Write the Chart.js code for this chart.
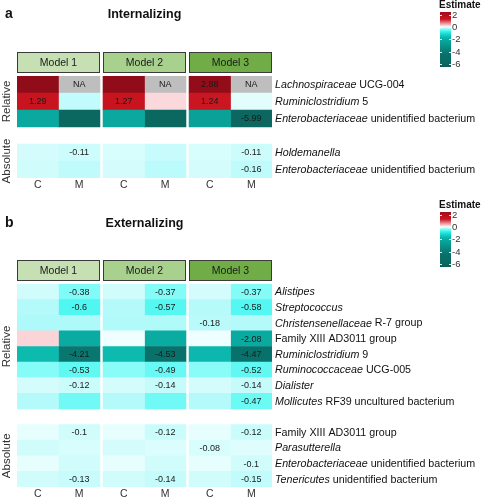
<!DOCTYPE html>
<html>
<head>
<meta charset="utf-8">
<script src="https://cdn.jsdelivr.net/npm/chart.js@4"></script>
<style>
  body { margin: 0; background: #fff; }
  canvas { position: absolute; left: 0; }
  #panelA { top: 0; }
  #panelB { top: 200px; }
</style>
</head>
<body>
<canvas id="panelA" width="482" height="200"></canvas>
<canvas id="panelB" width="482" height="300"></canvas>
<script>
var models = ["Model 1", "Model 2", "Model 3"];
var columns = ["C", "M", "C", "M", "C", "M"];
var legendTicks = [2, 0, -2, -4, -6];

// panel a - Internalizing
var intRows = [
    ["Lachnospiraceae", " UCG-004"],
    ["Ruminiclostridium", " 5"],
    ["Enterobacteriaceae", " unidentified bacterium"],
    ["Holdemanella", ""],
    ["Enterobacteriaceae", " unidentified bacterium"]
];
var intGroups = ["Relative", "Relative", "Relative", "Absolute", "Absolute"];
var intValues = [
    [2.9, null, 2.9, null, 2.88, null],
    [1.29, -0.15, 1.27, 0.18, 1.24, -0.05],
    [-2.15, -5.9, -2.15, -5.9, -2.45, -5.99],
    [-0.09, -0.11, -0.08, -0.13, -0.08, -0.11],
    [-0.1, -0.16, -0.09, -0.17, -0.09, -0.16]
];
var intLabels = [
    ["", "NA", "", "NA", "2.88", "NA"],
    ["1.29", "", "1.27", "", "1.24", ""],
    ["", "", "", "", "", "-5.99"],
    ["", "-0.11", "", "", "", "-0.11"],
    ["", "", "", "", "", "-0.16"]
];

// panel b - Externalizing
var extRows = [
    ["Alistipes", ""],
    ["Streptococcus", ""],
    ["Christensenellaceae", " R-7 group"],
    ["", "Family XIII AD3011 group"],
    ["Ruminiclostridium", " 9"],
    ["Ruminococcaceae", " UCG-005"],
    ["Dialister", ""],
    ["Mollicutes", " RF39 uncultured bacterium"],
    ["", "Family XIII AD3011 group"],
    ["Parasutterella", ""],
    ["Enterobacteriaceae", " unidentified bacterium"],
    ["Tenericutes", " unidentified bacterium"]
];
var extGroups = ["Relative", "Relative", "Relative", "Relative", "Relative", "Relative", "Relative", "Relative",
    "Absolute", "Absolute", "Absolute", "Absolute"];
var extValues = [
    [-0.1, -0.38, -0.1, -0.37, -0.09, -0.37],
    [-0.2, -0.6, -0.2, -0.57, -0.19, -0.58],
    [-0.22, -0.22, -0.21, -0.21, -0.18, -0.2],
    [0.2, -2.0, -0.02, -2.0, -0.02, -2.08],
    [-1.65, -4.21, -1.65, -4.53, -1.7, -4.47],
    [-0.36, -0.53, -0.35, -0.49, -0.35, -0.52],
    [-0.09, -0.12, -0.09, -0.14, -0.09, -0.14],
    [-0.2, -0.45, -0.2, -0.45, -0.2, -0.47],
    [-0.04, -0.1, -0.04, -0.12, -0.04, -0.12],
    [-0.1, -0.08, -0.09, -0.07, -0.08, -0.06],
    [-0.04, -0.1, -0.04, -0.1, -0.04, -0.1],
    [-0.1, -0.13, -0.1, -0.14, -0.1, -0.15]
];
var extLabels = [
    ["", "-0.38", "", "-0.37", "", "-0.37"],
    ["", "-0.6", "", "-0.57", "", "-0.58"],
    ["", "", "", "", "-0.18", ""],
    ["", "", "", "", "", "-2.08"],
    ["", "-4.21", "", "-4.53", "", "-4.47"],
    ["", "-0.53", "", "-0.49", "", "-0.52"],
    ["", "-0.12", "", "-0.14", "", "-0.14"],
    ["", "", "", "", "", "-0.47"],
    ["", "-0.1", "", "-0.12", "", "-0.12"],
    ["", "", "", "", "-0.08", ""],
    ["", "", "", "", "", "-0.1"],
    ["", "-0.13", "", "-0.14", "", "-0.15"]
];

var FONT = '"Liberation Sans", Arial, sans-serif';
var stripColors = ["#c6e0b4", "#a9d18e", "#70ad47"];
var naColor = "#bebebe";
var colorStops = [
    [-6.6, "#0a5a54"], [-6, "#0b6760"], [-4.5, "#07716a"], [-4, "#087c74"],
    [-2, "#0aaca2"], [-1.6, "#0cbcb0"], [-1, "#20e2dc"], [-0.6, "#50f6f0"],
    [-0.38, "#80fcf8"], [-0.2, "#b4fafa"], [-0.1, "#d0fcfc"], [-0.02, "#effefe"],
    [0, "#fbfbfb"], [0.2, "#fbd4d8"], [1.25, "#c9141f"], [3, "#8e0b19"]
];
var GAP = 0.075;

function hexToRgb(h) {
    return [parseInt(h.substr(1, 2), 16), parseInt(h.substr(3, 2), 16), parseInt(h.substr(5, 2), 16)];
}

function colorFor(v) {
    if (v === null) return naColor;
    if (v <= colorStops[0][0]) return colorStops[0][1];
    for (var i = 1; i < colorStops.length; i++) {
        if (v <= colorStops[i][0]) {
            var a = colorStops[i - 1], b = colorStops[i];
            var t = (v - a[0]) / (b[0] - a[0]);
            var ca = hexToRgb(a[1]), cb = hexToRgb(b[1]);
            var c = ca.map(function (x, k) { return Math.round(x + (cb[k] - x) * t); });
            return "rgb(" + c.join(",") + ")";
        }
    }
    return colorStops[colorStops.length - 1][1];
}

function colStart(j) {
    return Math.floor(j / 2) * (2 + GAP) + (j % 2);
}

function buildPanel(canvasId, letter, title, rows, groups, values, labels, pad) {
    var cats = [];
    var rowIdx = [];
    rows.forEach(function (r, i) {
        if (i > 0 && groups[i] !== groups[i - 1]) {
            cats.push("gap" + i);
            rowIdx.push(-1);
        }
        cats.push("row" + i);
        rowIdx.push(i);
    });

    var datasets = columns.map(function (c, j) {
        var x0 = colStart(j);
        return {
            label: c,
            data: rowIdx.map(function (i) { return i < 0 ? null : [x0, x0 + 1]; }),
            backgroundColor: rowIdx.map(function (i) { return i < 0 ? "rgba(0,0,0,0)" : colorFor(values[i][j]); }),
            borderWidth: 0,
            grouped: false,
            categoryPercentage: 1,
            barPercentage: 1
        };
    });

    var decor = {
        id: "decor",
        afterDatasetsDraw: function (chart) {
            var ctx = chart.ctx;
            var area = chart.chartArea;
            var xs = chart.scales.x;
            ctx.save();

            // cell labels
            ctx.fillStyle = "#1a1a1a";
            ctx.font = "9px " + FONT;
            ctx.textAlign = "center";
            ctx.textBaseline = "middle";
            columns.forEach(function (c, j) {
                var meta = chart.getDatasetMeta(j);
                rowIdx.forEach(function (i, k) {
                    if (i < 0 || !labels[i][j]) return;
                    var el = meta.data[k];
                    ctx.fillText(labels[i][j], (el.x + el.base) / 2, el.y + 0.5);
                });
            });

            // row labels
            var meta0 = chart.getDatasetMeta(0);
            ctx.textAlign = "left";
            ctx.fillStyle = "#111";
            rowIdx.forEach(function (i, k) {
                if (i < 0) return;
                var y = meta0.data[k].y + 0.5;
                var x = area.right + 3;
                if (rows[i][0]) {
                    ctx.font = "italic 10.7px " + FONT;
                    ctx.fillText(rows[i][0], x, y);
                    x += ctx.measureText(rows[i][0]).width;
                }
                ctx.font = "10.7px " + FONT;
                ctx.fillText(rows[i][1], x, y);
            });

            // group labels (Relative / Absolute)
            var groupNames = [];
            groups.forEach(function (g) { if (groupNames.indexOf(g) < 0) groupNames.push(g); });
            ctx.font = "11.5px " + FONT;
            ctx.fillStyle = "#333";
            ctx.textAlign = "center";
            groupNames.forEach(function (g) {
                var ks = [];
                rowIdx.forEach(function (i, k) { if (i >= 0 && groups[i] === g) ks.push(k); });
                var top = meta0.data[ks[0]].y - meta0.data[ks[0]].height / 2;
                var bot = meta0.data[ks[ks.length - 1]].y + meta0.data[ks[ks.length - 1]].height / 2;
                ctx.save();
                ctx.translate(7, (top + bot) / 2);
                ctx.rotate(-Math.PI / 2);
                ctx.fillText(g, 0, 0);
                ctx.restore();
            });

            // C / M axis labels
            ctx.font = "10.5px " + FONT;
            ctx.fillStyle = "#333";
            columns.forEach(function (c, j) {
                ctx.fillText(c, xs.getPixelForValue(colStart(j) + 0.5), area.bottom + 7);
            });

            // model strips
            models.forEach(function (m, n) {
                var x0 = Math.round(xs.getPixelForValue(colStart(n * 2)));
                var x1 = Math.round(xs.getPixelForValue(colStart(n * 2) + 2));
                var y0 = area.top - 24;
                ctx.fillStyle = stripColors[n];
                ctx.fillRect(x0, y0, x1 - x0, 21);
                ctx.strokeStyle = "#3a3a3a";
                ctx.lineWidth = 1;
                ctx.strokeRect(x0 + 0.5, y0 + 0.5, x1 - x0 - 1, 20);
                ctx.fillStyle = "#1a1a1a";
                ctx.font = "10.5px " + FONT;
                ctx.fillText(m, (x0 + x1) / 2, y0 + 11);
            });

            // title and panel letter
            ctx.fillStyle = "#111";
            ctx.font = "bold 12.5px " + FONT;
            ctx.fillText(title, (area.left + area.right) / 2, pad.titleY);
            ctx.textAlign = "left";
            ctx.font = "bold 14px " + FONT;
            ctx.fillText(letter, 5, pad.titleY - 1);

            // colour legend
            var barL = 440, barW = 11, barTop = pad.legendY + 7, barBot = pad.legendY + 62;
            var tick0 = pad.legendY + 9.5;
            var vAt = function (y) { return 2 - (y - tick0) / 6.19; };
            for (var y = barTop; y < barBot; y++) {
                ctx.fillStyle = colorFor(vAt(y + 0.5));
                ctx.fillRect(barL, y, barW, 1);
            }
            ctx.font = "bold 10px " + FONT;
            ctx.fillStyle = "#111";
            ctx.fillText("Estimate", 439, pad.legendY);
            ctx.font = "9.5px " + FONT;
            legendTicks.forEach(function (t) {
                var ty = tick0 + (2 - t) * 6.19;
                ctx.fillStyle = "rgba(255,255,255,0.9)";
                ctx.fillRect(barL, Math.round(ty), 2, 1);
                ctx.fillRect(barL + barW - 2, Math.round(ty), 2, 1);
                ctx.fillStyle = "#333";
                ctx.fillText(String(t), barL + barW + 1, ty + 0.5);
            });
            ctx.restore();
        }
    };

    return new Chart(document.getElementById(canvasId).getContext("2d"), {
        type: "bar",
        data: { labels: cats, datasets: datasets },
        options: {
            indexAxis: "y",
            responsive: false,
            animation: false,
            layout: { padding: { left: 17, right: 210, top: pad.top, bottom: pad.bottom } },
            plugins: { legend: { display: false }, tooltip: { enabled: false } },
            scales: {
                x: { type: "linear", min: 0, max: 6 + 2 * GAP, display: false },
                y: { type: "category", display: false, offset: true }
            }
        },
        plugins: [decor]
    });
}

buildPanel("panelA", "a", "Internalizing", intRows, intGroups, intValues, intLabels,
    { top: 76, bottom: 22, titleY: 15, legendY: 5 });
buildPanel("panelB", "b", "Externalizing", extRows, extGroups, extValues, extLabels,
    { top: 84, bottom: 13, titleY: 24, legendY: 5 });
</script>
</body>
</html>
